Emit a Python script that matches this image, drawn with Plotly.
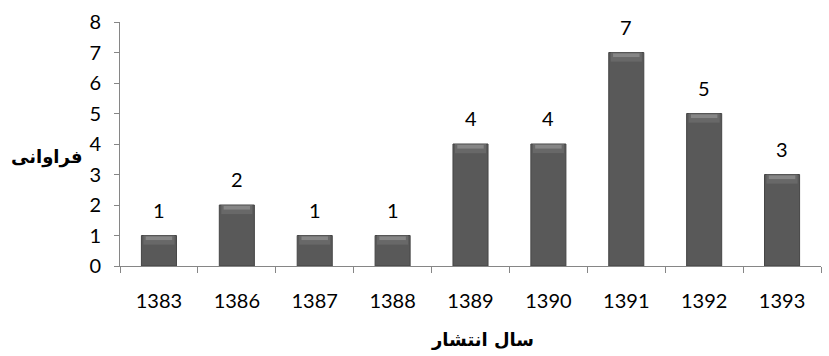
import plotly.graph_objects as go

# Publication year (Persian calendar) and frequency
years = ["1383", "1386", "1387", "1388", "1389", "1390", "1391", "1392", "1393"]
counts = [1, 2, 1, 1, 4, 4, 7, 5, 3]
y_ticks = [0, 1, 2, 3, 4, 5, 6, 7, 8]

bar_color = "#595959"
axis_color = "#868686"
num_font = dict(family="Lato, Open Sans, sans-serif", size=20, color="#000000")
title_font = dict(family="DejaVu Sans", size=18, color="#000000")

fig = go.Figure()

fig.add_trace(go.Bar(
    x=years,
    y=counts,
    width=0.45,
    marker=dict(color=bar_color, line=dict(color="#454545", width=1)),
    hoverinfo="x+y",
))

# Lighter bevel strips along the top of each bar
cap = 0.3
fig.add_trace(go.Bar(
    x=years,
    y=[cap] * len(counts),
    base=[v - cap for v in counts],
    width=0.40,
    marker=dict(color="#686868", line=dict(width=0)),
    hoverinfo="skip",
))
cap2 = 0.12
fig.add_trace(go.Bar(
    x=years,
    y=[cap2] * len(counts),
    base=[v - cap2 - 0.03 for v in counts],
    width=0.34,
    marker=dict(color="#868686", line=dict(width=0)),
    hoverinfo="skip",
))

# Value labels above the bars (category axis positions by index)
value_labels = [
    dict(x=i, y=v, xref="x", yref="y", text=str(v), showarrow=False,
         yshift=26, yanchor="middle", font=num_font)
    for i, v in enumerate(counts)
]

fig.update_layout(
    width=829,
    height=356,
    margin=dict(l=120, r=8, t=22, b=90),
    paper_bgcolor="white",
    plot_bgcolor="white",
    showlegend=False,
    barmode="overlay",
    xaxis=dict(
        type="category",
        categoryorder="array",
        categoryarray=years,
        range=[-0.5, len(years) - 0.5],
        tickson="boundaries",
        ticks="outside",
        ticklen=6,
        tickcolor=axis_color,
        showline=True,
        linecolor=axis_color,
        linewidth=1,
        showgrid=False,
        tickfont=num_font,
        ticklabelstandoff=17,
    ),
    yaxis=dict(
        range=[0, 8],
        tickvals=y_ticks,
        ticks="outside",
        ticklen=5,
        tickcolor=axis_color,
        showline=True,
        linecolor=axis_color,
        linewidth=1,
        showgrid=False,
        zeroline=False,
        tickfont=num_font,
        ticklabelstandoff=9,
    ),
    annotations=value_labels + [
        dict(text="<b>فراوانی</b>", x=-0.158, y=0.447, xref="paper", yref="paper",
             xanchor="left", yanchor="middle", showarrow=False,
             font=title_font),
        dict(text="<b>سال انتشار</b>", x=0.517, y=-0.3, xref="paper", yref="paper",
             xanchor="center", yanchor="middle", showarrow=False,
             font=title_font),
    ],
)

fig.write_html("out.html")
